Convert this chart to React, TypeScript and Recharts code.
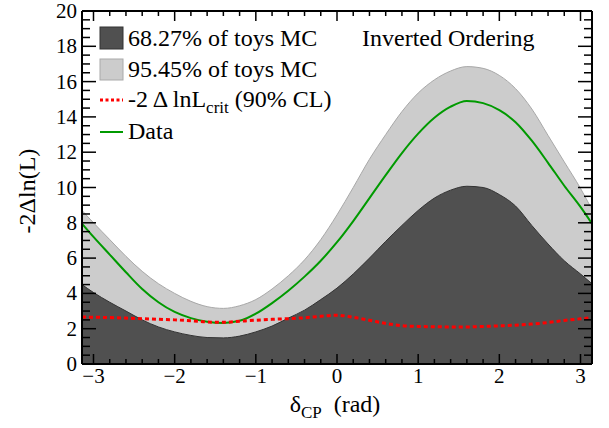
import React from 'react';
import { ComposedChart, Area, Line, XAxis, YAxis } from 'recharts';

// delta_CP grid (rad)
const deltaCP = [
  -3.1416, -3.0, -2.8, -2.6, -2.4, -2.2, -2.0, -1.8, -1.6, -1.4, -1.2, -1.0, -0.8, -0.6, -0.4, -0.2,
  0.0, 0.2, 0.4, 0.6, 0.8, 1.0, 1.2, 1.4, 1.6, 1.8, 2.0, 2.2, 2.4, 2.6, 2.8, 3.0, 3.1416,
];
// -2 Delta ln L from data
const dataCurve = [
  7.95, 7.2, 6.2, 5.2, 4.25, 3.5, 2.95, 2.6, 2.4, 2.33, 2.45, 2.85, 3.45, 4.15, 4.95, 5.85,
  6.9, 8.1, 9.4, 10.7, 11.95, 13.05, 13.95, 14.58, 14.9, 14.78, 14.38, 13.7, 12.65, 11.4, 10.1, 8.9, 7.95,
];
// upper edge of 68.27% toys MC band
const band68Upper = [
  4.5, 4.05, 3.5, 3.0, 2.5, 2.1, 1.82, 1.62, 1.5, 1.48, 1.58, 1.82, 2.15, 2.6, 3.05, 3.65,
  4.3, 5.1, 6.0, 6.95, 7.85, 8.7, 9.4, 9.85, 10.07, 10.0, 9.6, 8.95, 7.85, 6.8, 5.85, 5.1, 4.55,
];
// upper edge of 95.45% toys MC band
const band95Upper = [
  8.7, 8.0, 7.05, 6.1, 5.25, 4.55, 4.0, 3.55, 3.25, 3.15, 3.3, 3.65, 4.25, 5.0, 5.9, 7.05,
  8.45, 10.0, 11.6, 13.0, 14.3, 15.35, 16.1, 16.6, 16.85, 16.75, 16.35, 15.6, 14.45, 12.95, 11.45, 9.95, 8.75,
];
// -2 Delta lnL_crit (90% CL)
const critCurve = [
  2.66, 2.65, 2.63, 2.6, 2.57, 2.53, 2.5, 2.45, 2.38, 2.36, 2.42, 2.48, 2.53, 2.57, 2.62, 2.7,
  2.76, 2.65, 2.48, 2.3, 2.17, 2.13, 2.11, 2.1, 2.1, 2.13, 2.16, 2.2, 2.26, 2.35, 2.47, 2.56, 2.63,
];

const xTicks = [
  -3, -2.8, -2.6, -2.4, -2.2, -2, -1.8, -1.6, -1.4, -1.2, -1, -0.8, -0.6, -0.4, -0.2,
  0, 0.2, 0.4, 0.6, 0.8, 1, 1.2, 1.4, 1.6, 1.8, 2, 2.2, 2.4, 2.6, 2.8, 3,
];
const xLabels = [-3, -2, -1, 0, 1, 2, 3];
const yTicks = [
  0, 0.5, 1, 1.5, 2, 2.5, 3, 3.5, 4, 4.5, 5, 5.5, 6, 6.5, 7, 7.5, 8, 8.5, 9, 9.5, 10,
  10.5, 11, 11.5, 12, 12.5, 13, 13.5, 14, 14.5, 15, 15.5, 16, 16.5, 17, 17.5, 18, 18.5, 19, 19.5, 20,
];
const yLabels = [0, 2, 4, 6, 8, 10, 12, 14, 16, 18, 20];

const chartData = deltaCP.map((x, i) => ({
  x,
  data: dataCurve[i],
  u68: band68Upper[i],
  u95: band95Upper[i],
  crit: critCurve[i],
}));

const W = 609;
const H = 428;
const FONT = '"Liberation Serif", "DejaVu Serif", serif';
const DARK = '#505050';
const LIGHT = '#cccccc';
const GREEN = '#009a00';
const RED = '#ff0000';

const near = (a: number, b: number) => Math.abs(a - b) < 1e-6;
const fmt = (v: number) => (v < 0 ? '\u2212' + Math.abs(v) : String(v));

const BottomTick = (p: any) => {
  const v = p.payload.value;
  const major = xLabels.some((l) => near(l, v));
  return (
    <g>
      <line x1={p.x} x2={p.x} y1={p.y} y2={p.y - (major ? 10 : 5)} stroke="#000" strokeWidth={1.5} />
      {major && (
        <text x={p.x} y={p.y + 19} textAnchor="middle" fontFamily={FONT} fontSize={21} fill="#000">
          {fmt(v)}
        </text>
      )}
    </g>
  );
};
const TopTick = (p: any) => {
  const v = p.payload.value;
  const major = xLabels.some((l) => near(l, v));
  return <line x1={p.x} x2={p.x} y1={p.y} y2={p.y + (major ? 10 : 5)} stroke="#000" strokeWidth={1.5} />;
};
const LeftTick = (p: any) => {
  const v = p.payload.value;
  const major = yLabels.some((l) => near(l, v));
  return (
    <g>
      <line x1={p.x} x2={p.x + (major ? 14 : 8)} y1={p.y} y2={p.y} stroke="#000" strokeWidth={1.5} />
      {major && (
        <text x={p.x - 5} y={p.y + 7} textAnchor="end" fontFamily={FONT} fontSize={21} fill="#000">
          {fmt(v)}
        </text>
      )}
    </g>
  );
};
const RightTick = (p: any) => {
  const v = p.payload.value;
  const major = yLabels.some((l) => near(l, v));
  return <line x1={p.x} x2={p.x - (major ? 14 : 8)} y1={p.y} y2={p.y} stroke="#000" strokeWidth={1.5} />;
};

const axisLine = { stroke: '#000', strokeWidth: 2 };

export default function App() {
  return (
    <div style={{ position: 'absolute', left: 0, top: 0, width: W, height: H, background: '#fff', fontFamily: FONT }}>
      <ComposedChart width={W} height={H} data={chartData} margin={{ top: 10, right: 16, bottom: 63, left: 81 }}>
        <Area
          dataKey="u95"
          type="monotone"
          fill={LIGHT}
          fillOpacity={1}
          stroke="#a8a8a8"
          strokeWidth={1}
          baseValue={0}
          dot={false}
          activeDot={false}
          isAnimationActive={false}
        />
        <Area
          dataKey="u68"
          type="monotone"
          fill={DARK}
          fillOpacity={1}
          stroke="#333333"
          strokeWidth={1}
          baseValue={0}
          dot={false}
          activeDot={false}
          isAnimationActive={false}
        />
        <Line dataKey="data" type="monotone" stroke={GREEN} strokeWidth={2} dot={false} activeDot={false} isAnimationActive={false} />
        <Line
          dataKey="crit"
          type="monotone"
          stroke={RED}
          strokeWidth={3}
          strokeDasharray="4 3"
          dot={false}
          activeDot={false}
          isAnimationActive={false}
        />
        <XAxis
          dataKey="x"
          type="number"
          domain={[-Math.PI, Math.PI]}
          allowDataOverflow
          ticks={xTicks}
          interval={0}
          height={1}
          tickSize={0}
          tickMargin={0}
          tickLine={false}
          axisLine={axisLine}
          tick={(p: any) => <BottomTick {...p} />}
        />
        <XAxis
          xAxisId="top"
          orientation="top"
          dataKey="x"
          type="number"
          domain={[-Math.PI, Math.PI]}
          allowDataOverflow
          ticks={xTicks}
          interval={0}
          height={1}
          tickSize={0}
          tickMargin={0}
          tickLine={false}
          axisLine={axisLine}
          tick={(p: any) => <TopTick {...p} />}
        />
        <YAxis
          type="number"
          domain={[0, 20]}
          allowDataOverflow
          ticks={yTicks}
          interval={0}
          width={1}
          tickSize={0}
          tickMargin={0}
          tickLine={false}
          axisLine={axisLine}
          tick={(p: any) => <LeftTick {...p} />}
        />
        <YAxis
          yAxisId="right"
          orientation="right"
          type="number"
          domain={[0, 20]}
          allowDataOverflow
          ticks={yTicks}
          interval={0}
          width={1}
          tickSize={0}
          tickMargin={0}
          tickLine={false}
          axisLine={axisLine}
          tick={(p: any) => <RightTick {...p} />}
        />
      </ComposedChart>

      {/* Legend and annotation overlay */}
      <svg width={W} height={H} style={{ position: 'absolute', left: 0, top: 0, pointerEvents: 'none' }}>
        <rect x={100} y={27} width={23} height={22} fill={DARK} stroke="#333" strokeWidth={1} />
        <text x={128} y={46} fontFamily={FONT} fontSize={24} fill="#000">68.27% of toys MC</text>
        <rect x={100} y={59} width={23} height={21} fill={LIGHT} stroke="#aaa" strokeWidth={1} />
        <text x={128} y={77} fontFamily={FONT} fontSize={24} fill="#000">95.45% of toys MC</text>
        <line x1={100} x2={123} y1={100} y2={100} stroke={RED} strokeWidth={3} strokeDasharray="3 2.5" />
        <text x={128} y={107} fontFamily={FONT} fontSize={24} fill="#000">
          -2 Δ lnL<tspan fontSize={17} dy={6}>crit</tspan>
          <tspan dy={-6}> (90% CL)</tspan>
        </text>
        <line x1={100} x2={123} y1={132} y2={132} stroke={GREEN} strokeWidth={2} />
        <text x={128} y={139} fontFamily={FONT} fontSize={24} fill="#000">Data</text>
        <text x={362} y={46} fontFamily={FONT} fontSize={24} fill="#000">Inverted Ordering</text>

        <text
          x={0}
          y={0}
          transform="translate(35,191) rotate(-90)"
          textAnchor="middle"
          fontFamily={FONT}
          fontSize={24}
          fill="#000"
        >
          -2Δln(L)
        </text>
        <text x={335} y={412} textAnchor="middle" fontFamily={FONT} fontSize={24} fill="#000">
          δ<tspan fontSize={17} dy={6}>CP</tspan>
          <tspan dy={-6}>{'\u00a0\u00a0(rad)'}</tspan>
        </text>
      </svg>
    </div>
  );
}
